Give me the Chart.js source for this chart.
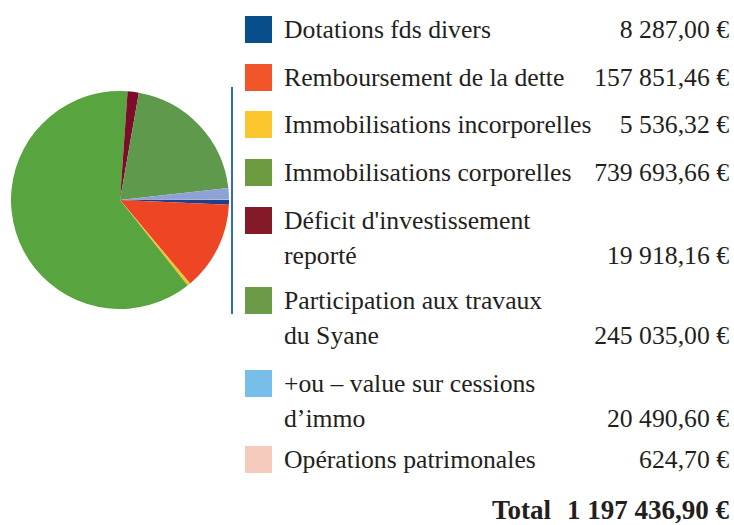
<!DOCTYPE html>
<html>
<head>
<meta charset="utf-8">
<script src="https://cdn.jsdelivr.net/npm/chart.js@4"></script>
<style>
  html, body { margin: 0; padding: 0; background: #fff; }
  #wrap { position: relative; width: 734px; height: 525px; overflow: hidden; font-family: "Liberation Serif", "DejaVu Serif", serif; color: #231f20; }
  #pieBox { position: absolute; left: 11px; top: 91px; width: 218px; height: 218px; }
  #vline { position: absolute; left: 231px; top: 87px; width: 2px; height: 227px; background: #2f6fb8; }
  .sw { position: absolute; left: 245px; width: 27px; height: 27px; }
  .lbl { position: absolute; left: 284px; font-size: 25.7px; line-height: 35.5px; white-space: nowrap; }
  .val { position: absolute; right: 5px; font-size: 25.7px; line-height: 35.5px; white-space: nowrap; text-align: right; }
  .tot { position: absolute; right: 5px; font-size: 27px; line-height: 27px; font-weight: bold; white-space: nowrap; }
  .tot span { display: inline-block; width: 16px; }
</style>
</head>
<body>
<div id="wrap">
  <div id="pieBox"><canvas id="c"></canvas></div>
  <div id="vline"></div>
</div>
<script>
// ---- data ----
const categories = [
  "Dotations fds divers",
  "Remboursement de la dette",
  "Immobilisations incorporelles",
  "Immobilisations corporelles",
  "Déficit d'investissement\nreporté",
  "Participation aux travaux\ndu Syane",
  "+ou – value sur cessions\nd’immo",
  "Opérations patrimonales"
];
const values = [8287.00, 157851.46, 5536.32, 739693.66, 19918.16, 245035.00, 20490.60, 624.70];
const valueLabels = ["8 287,00 €", "157 851,46 €", "5 536,32 €", "739 693,66 €", "19 918,16 €", "245 035,00 €", "20 490,60 €", "624,70 €"];
const totalLabel = "1 197 436,90 €";

// ---- styles ----
const pieColors = ["#1d3f8c", "#ee4624", "#f2c12e", "#58a43f", "#7d0c2b", "#5f9a4c", "#8ea2d6", "#f4c6b6"];
const swatchColors = ["#064f8b", "#f1562a", "#fcc72e", "#6b9a3f", "#841a27", "#6b9a48", "#77bfea", "#f6cbbd"];
const swatchTops = [16, 64, 111, 159, 207, 287, 370, 446];
const totalCenter = 510;

const wrap = document.getElementById('wrap');
categories.forEach((cat, i) => {
  const lines = cat.split('\n');
  const sw = document.createElement('div');
  sw.className = 'sw';
  sw.style.top = swatchTops[i] + 'px';
  sw.style.background = swatchColors[i];
  wrap.appendChild(sw);
  const textTop = swatchTops[i] + 13.5 - 17.75;
  const lbl = document.createElement('div');
  lbl.className = 'lbl';
  lbl.style.top = textTop + 'px';
  lbl.innerHTML = lines.map(l => l.replace(/&/g,'&amp;').replace(/</g,'&lt;')).join('<br>');
  wrap.appendChild(lbl);
  const val = document.createElement('div');
  val.className = 'val';
  val.style.top = (textTop + (lines.length - 1) * 35.5) + 'px';
  val.textContent = valueLabels[i];
  wrap.appendChild(val);
});
const tot = document.createElement('div');
tot.className = 'tot';
tot.style.top = (totalCenter - 13.5) + 'px';
tot.innerHTML = 'Total<span></span>' + totalLabel;
wrap.appendChild(tot);

new Chart(document.getElementById('c'), {
  type: 'pie',
  data: {
    labels: categories.map(c => c.replace('\n', ' ')),
    datasets: [{
      data: values,
      backgroundColor: pieColors,
      borderWidth: 0
    }]
  },
  options: {
    responsive: true,
    maintainAspectRatio: false,
    animation: false,
    rotation: 90,
    layout: { padding: 0 },
    plugins: { legend: { display: false }, tooltip: { enabled: false } }
  }
});
</script>
</body>
</html>
